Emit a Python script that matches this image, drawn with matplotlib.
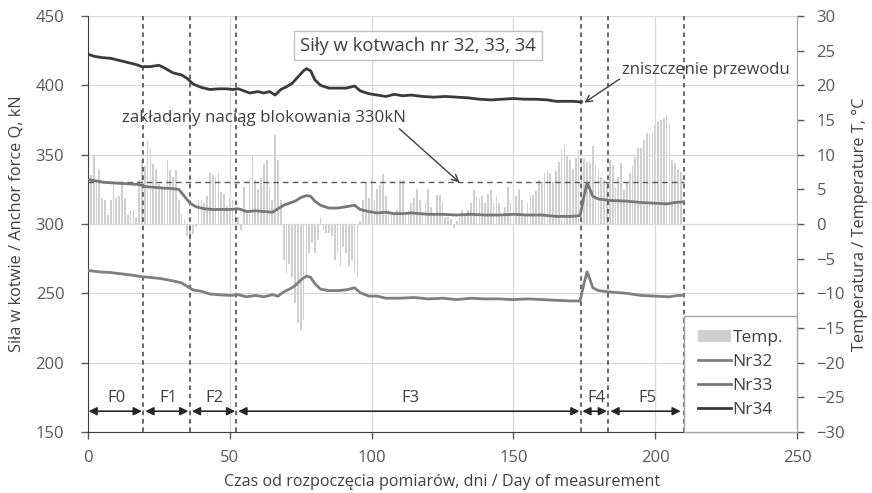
import matplotlib
matplotlib.use("Agg")
import matplotlib.pyplot as plt
import numpy as np

plt.rcParams['font.family'] = ['Open Sans', 'DejaVu Sans']

# --- data ---
temp_vals = [
    10.5, 7, 10, 6.4, 8, 3.7, 3.5, 1.3, 3.5, 5.6,   # 0-9
    3.7, 4, 6, 3.7, 1.3, 2, 2, 1, 6.3, 9.2,         # 10-19
    8.3, 12, 10.9, 8.7, 7.9, 5.7, 5.4, 5.3, 9.2, 7.8,  # 20-29
    6.8, 7.8, 3.5, 1.5, 0.6, -1.8, -2.5, -1.5, -0.5, 3.5,  # 30-39
    3.5, 3, 4, 7.3, 7, 6.8, 7.3, 4.6, 4.3, 2.6,     # 40-49
    3.7, 3.5, 2.5, 1, -0.9, 5.4, 1.8, 6.8, 10, 6.4, # 50-59
    5, 6.6, 8.7, 9.2, 5.4, 3.5, 12.8, 9.2, 3.5, -5.2,  # 60-69
    -7.1, -5.7, -7.6, -11.4, -14.3, -15.3, -13.9, -8, -4.2, -2.8,  # 70-79
    -4.2, -2.3, 0.8, -0.9, -1.3, -1.3, -1.8, -5.2, -4.2, -6.1,  # 80-89
    -3.3, -4.2, -6.1, -5.2, -7.1, -7.6, 0.5, 3.5, 6.1, 3.8,  # 90-99
    6.6, 3.5, 5, 5.6, 7.2, 4, 2, 1.5, 1.5, 2,       # 100-109
    6.3, 6.3, 1.5, 2, 3, 3.7, 5.1, 3.5, 1.5, 3,     # 110-119
    5.1, 2.5, 1.5, 4.2, 4.2, 3.2, 1, 1, 0.7, -0.6,  # 120-129
    0.5, 1, 2, 1.3, 2, 3, 4.9, 4, 3.7, 4,           # 130-139
    3, 4.4, 4.9, 3, 4, 3, 1.5, 2.5, 5.4, 3,         # 140-149
    2.5, 4, 5.1, 3.5, 1.5, 3, 4.2, 4.2, 4.7, 6.3,   # 150-159
    6, 7.3, 7.8, 7.3, 6, 7.6, 9, 10.7, 11.6, 9.9,   # 160-169
    9.2, 8, 9.5, 10.7, 9, 9.5, 9, 8.8, 11.2, 8.5,   # 170-179
    8, 6.8, 6.3, 5.9, 9.2, 8.5, 5.4, 6.8, 8.8, 4.9, # 180-189
    5.9, 7.3, 8.3, 9.7, 10.9, 11, 12.1, 13.1, 13, 13.1,  # 190-199
    14.3, 14.8, 15, 15.3, 15.7, 14.5, 9.2, 8.8, 8, 7.5,  # 200-209
]
temp_days = list(range(len(temp_vals)))

nr34_days = [0, 2, 5, 8, 11, 14, 17, 19, 22, 25, 27, 30, 33, 35, 37, 40, 43, 46, 49, 51,
             53, 55, 57, 60, 62, 64, 66, 68, 70, 72, 74, 76, 77, 78.5, 80, 82, 85, 88, 91, 94,
             96, 99, 102, 105, 108, 111, 114, 118, 122, 126, 130, 134, 138, 142, 146, 150,
             154, 158, 162, 165, 168, 171, 174]
nr34_vals = [422.5, 421, 420, 419.5, 418, 416.5, 415, 413.5, 413.5, 414.5, 412.5, 409, 407.5, 405,
             401, 398.5, 397, 397.5, 397.5, 397, 397.5, 396, 394.5, 395.5, 394.5, 395.5, 393,
             397, 399, 401.5, 406, 410.5, 412, 410.5, 404, 400, 398, 398, 398, 399.5, 396, 394,
             393, 392, 393.5, 392.5, 393, 392, 391.5, 392, 391.5, 391, 390, 389.5, 390, 390.5,
             390, 390, 389.5, 388.5, 388.5, 388.5, 388]

nr33_days = [0, 3, 6, 10, 14, 18, 20, 23, 26, 30, 32, 34, 36, 38, 41, 44, 47, 50, 53, 56, 59,
             62, 65, 67, 69, 71, 73, 75, 77, 78.5, 80, 82, 85, 88, 91, 94, 96, 99, 102, 105,
             108, 111, 114, 117, 120, 125, 130, 135, 140, 145, 150, 155, 160, 165, 170, 173.5,
             175, 176, 177, 178, 180, 184, 190, 195, 200, 204, 207, 210]
nr33_vals = [332, 331, 330, 329.5, 329, 328.5, 327, 326.5, 326, 325.5, 325, 320, 315, 312.5, 311,
             310.5, 310.5, 310.5, 311, 309, 309.5, 309, 308.5, 311, 313.5, 315, 316.5, 319,
             320.5, 320, 316.5, 313.5, 311.5, 311.5, 312.5, 313.5, 310.5, 309, 308, 308.5,
             307.5, 307.5, 308, 307.5, 307, 307, 306.5, 307, 306.5, 306.5, 307, 306.5, 306.5,
             305.5, 305.5, 306, 321, 329.5, 325, 320, 318, 317, 316.5, 315.5, 315, 314.5,
             315.5, 316]

nr32_days = [0, 4, 8, 12, 16, 19, 22, 26, 30, 33, 35, 37, 40, 43, 46, 50, 53, 56, 59, 62, 65,
             67, 69, 71, 73, 75, 77, 78.5, 80, 82, 85, 88, 91, 94, 96, 99, 102, 105, 110, 115,
             120, 125, 130, 135, 140, 145, 150, 155, 160, 165, 170, 173.5, 175, 176, 177, 178,
             180, 184, 190, 195, 200, 205, 208, 210]
nr32_vals = [266.5, 265.5, 265, 264, 263, 262, 261.5, 260.5, 259, 257.5, 255, 252.5, 251.5, 249.5,
             249, 248.5, 249, 247.5, 248.5, 247.5, 249, 248, 251, 253, 255.5, 259.5, 262.5,
             261.5, 257, 253, 252, 252, 252.5, 254, 250.5, 248, 248, 246.5, 246.5, 247, 246,
             246.5, 245.5, 246.5, 246, 246, 245.5, 246, 245.5, 245, 244.5, 244.5, 258, 265.5,
             260, 254, 252, 251, 250, 248.5, 248, 247.5, 248.5, 248.5]

phase_names = ["F0", "F1", "F2", "F3", "F4", "F5"]
phase_start = [0.2, 20.2, 36.6, 53, 174.3, 184.2]
phase_end = [19, 35.4, 51.9, 173.3, 183, 209]
phase_lines = [19.4, 36, 52.2, 174, 183.3, 210]
lock_force = 330

txt = '#404040'
tick_c = '#595959'

fig = plt.figure(figsize=(8.72, 4.93), dpi=100)
ax = fig.add_axes([0.1009, 0.1237, 0.8131, 0.8438])
ax2 = ax.twinx()
ax.set_zorder(ax2.get_zorder() + 1)
ax.patch.set_visible(False)

bars = ax2.bar(temp_days, temp_vals, width=0.6, color='#cfcfcf', zorder=1)
ax2.set_ylim(-30, 30)
ax2.set_yticks(np.arange(-30, 31, 5))

l32, = ax.plot(nr32_days, nr32_vals, color='#7f7f7f', lw=2.0, zorder=4)
l33, = ax.plot(nr33_days, nr33_vals, color='#777777', lw=2.0, zorder=4)
l34, = ax.plot(nr34_days, nr34_vals, color='#3a3a3a', lw=2.0, zorder=4)

ax.set_xlim(0, 250)
ax.set_ylim(150, 450)
ax.set_xticks(np.arange(0, 251, 50))
ax.set_yticks(np.arange(150, 451, 50))
ax.grid(True, color='#d9d9d9', lw=0.9, zorder=0)
ax.set_axisbelow(True)

for xv in phase_lines:
    ax.axvline(xv, color='#404040', lw=1.1, ls=(0, (3, 2.5)), zorder=3)
ax.plot([0, phase_lines[-1]], [lock_force, lock_force], color='#595959', lw=1.0,
        ls=(0, (4, 3)), zorder=3)

for name, s, e in zip(phase_names, phase_start, phase_end):
    ax.annotate('', xy=(e, 165), xytext=(s, 165),
                arrowprops=dict(arrowstyle='<|-|>', color='#262626', lw=1.2,
                                mutation_scale=12, shrinkA=0, shrinkB=0))
    ax.text((s + e) / 2 + 0.5, 168.5, name, ha='center', va='bottom', fontsize=12, color=txt)

ax.annotate('zakładany naciąg blokowania 330kN', xy=(131, 330), xytext=(62, 376.5),
            ha='center', va='center', fontsize=12.2, color=txt,
            arrowprops=dict(arrowstyle='->', color='#404040', lw=1.0,
                            shrinkA=0, shrinkB=0, relpos=(0.96, 0.1)))
ax.annotate('zniszczenie przewodu', xy=(175, 387.5), xytext=(218, 411),
            ha='center', va='center', fontsize=12, color=txt,
            arrowprops=dict(arrowstyle='->', color='#404040', lw=1.0,
                            shrinkA=0, shrinkB=0, relpos=(0.02, 0.2)))

ax.text(0.465, 0.929, 'Siły w kotwach nr 32, 33, 34', transform=ax.transAxes, ha='center',
        va='center', fontsize=13.3, color=txt,
        bbox=dict(boxstyle='square,pad=0.32', fc='white', ec='#bfbfbf', lw=1.0))

ax.set_xlabel('Czas od rozpoczęcia pomiarów, dni / Day of measurement', fontsize=11.6,
              color=txt, labelpad=6)
ax.set_ylabel('Siła w kotwie / Anchor force Q, kN', fontsize=11.8, color=txt, labelpad=8)
ax2.set_ylabel('Temperatura / Temperature T, °C', fontsize=11.8, color=txt, labelpad=5)

for a in (ax, ax2):
    a.tick_params(labelsize=12, colors=tick_c, length=5, width=1.0)
    a.spines['top'].set_visible(False)
ax.tick_params(axis='x', pad=8)
ax.tick_params(axis='y', pad=12)
ax2.tick_params(axis='y', pad=9)
ax.spines['right'].set_visible(False)
ax.spines['left'].set_color('#404040')
ax.spines['bottom'].set_color('#404040')
ax2.spines['left'].set_visible(False)
ax2.spines['bottom'].set_visible(False)
ax2.spines['right'].set_color('#a6a6a6')

leg = ax.legend([bars, l32, l33, l34], ['Temp.', 'Nr32', 'Nr33', 'Nr34'], loc='lower right',
                bbox_to_anchor=(1, 0), borderaxespad=0, fancybox=False, fontsize=12.5,
                handlelength=1.9, handletextpad=0.1, labelspacing=0.45, borderpad=0.8,
                edgecolor='#a6a6a6', framealpha=1)
leg.get_frame().set_linewidth(1.0)
for t in leg.get_texts():
    t.set_color(txt)

fig.savefig('out.png', dpi=100)
